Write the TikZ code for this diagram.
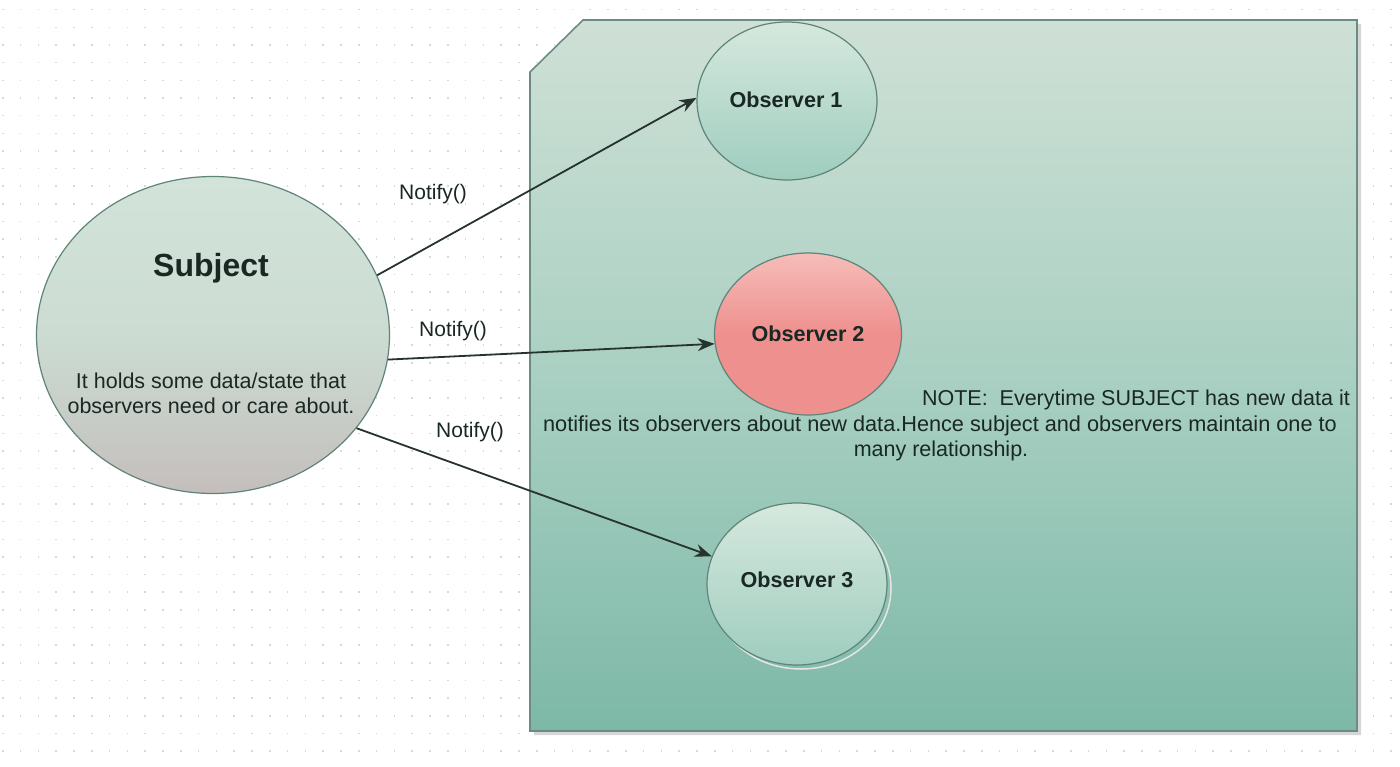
\documentclass[tikz,border=0pt]{standalone}
\usepackage{fontspec}
\setmainfont{Liberation Sans}
\usetikzlibrary{arrows.meta,shapes.geometric}
\definecolor{gridc}{HTML}{CFDDD8}
\definecolor{paneltop}{HTML}{CFE0D6}
\definecolor{panelmid}{HTML}{A9D0C2}
\definecolor{panelbot}{HTML}{7DB8A7}
\definecolor{panelline}{HTML}{6A8C82}
\definecolor{ink}{HTML}{1A2824}
\definecolor{arrowc}{HTML}{26332F}
\definecolor{subjtop}{HTML}{D2E3D9}
\definecolor{subjmid}{HTML}{CCDCD2}
\definecolor{subjbot}{HTML}{C4BEBC}
\definecolor{obstop}{HTML}{D6E8DE}
\definecolor{obsbot}{HTML}{9ECDBE}
\definecolor{redtop}{HTML}{F6BDB9}
\definecolor{redbot}{HTML}{EE908E}
\definecolor{ringc}{HTML}{5F8479}
\tikzset{
  bubble/.style={ellipse, draw=ringc, line width=1.2pt, inner sep=0pt},
  lbl/.style={text=ink, font=\fontsize{21}{23}\selectfont, inner sep=0pt},
  obslbl/.style={text=ink, font=\bfseries\fontsize{21.6}{23}\selectfont, inner sep=0pt},
  notify/.style={draw=arrowc, line width=1.8pt, -{Stealth[length=17pt,width=13pt]}},
}
\begin{document}
\begin{tikzpicture}[x=1pt,y=-1pt]
\useasboundingbox (0,0) rectangle (1400,767);
\fill[white] (0,0) rectangle (1400,767);
% dotted grid
\foreach \i in {0,...,78}{
  \foreach \j in {0,...,43}{
    \fill[gridc] ({2+\i*17.8},{9+\j*17.65}) rectangle ++(1.5,1.5);
  }
}
% panel shadow
\fill[black!16] (587,24) -- (1361,24) -- (1361,735) -- (534,735) -- (534,76) -- cycle;
% panel
\path[draw=panelline, line width=1.6pt, top color=paneltop, bottom color=panelbot, middle color=panelmid]
  (583,20) -- (1357,20) -- (1357,731) -- (530,731) -- (530,72) -- cycle;
% subject
\node[bubble, minimum width=353pt, minimum height=317pt, top color=subjtop, bottom color=subjbot, middle color=subjmid] (subj) at (213,335) {};
\node[text=ink, font=\bfseries\fontsize{32}{34}\selectfont, inner sep=0pt] (subjt) at (211,268) {Subject};
\node[lbl, align=center, font=\fontsize{21.5}{25}\selectfont] (subjd) at (211,393) {It holds some data/state that\\observers need or care about.};
% observers
\node[bubble, minimum width=180pt, minimum height=158pt, top color=obstop, bottom color=obsbot] (obs1) at (787,101) {};
\node[obslbl] (obs1t) at (786,100) {Observer 1};
\node[bubble, minimum width=187pt, minimum height=162pt, top color=redtop, bottom color=redbot, middle color=redbot] (obs2) at (808,334) {};
\node[obslbl] (obs2t) at (808,334) {Observer 2};
\node[ellipse, minimum width=180pt, minimum height=162pt, draw=white!80!gray, line width=1.5pt, inner sep=0pt] (obs3s) at (801,588) {};
\node[bubble, minimum width=180pt, minimum height=162pt, top color=obstop, bottom color=obsbot] (obs3) at (797,584) {};
\node[obslbl] (obs3t) at (797,580) {Observer 3};
% arrows
\draw[notify] (subj.20) -- (obs1.178);
\draw[notify] (subj.-8.7) -- (obs2.186);
\draw[notify] (subj.-33) -- (obs3.162);
% labels
\node[lbl] (n1) at (433,194) {Notify()};
\node[lbl] (n2) at (453,331) {Notify()};
\node[lbl] (n3) at (470,432) {Notify()};
% note
\node[lbl, anchor=east, font=\fontsize{21.5}{23}\selectfont] (note1) at (1350,400) {NOTE:\ \ Everytime SUBJECT has new data it};
\node[lbl, font=\fontsize{21.7}{23}\selectfont] (note2) at (940,426) {notifies its observers about new data.Hence subject and observers maintain one to};
\node[lbl, font=\fontsize{21.5}{23}\selectfont] (note3) at (941,451) {many relationship.};
\end{tikzpicture}
\end{document}
